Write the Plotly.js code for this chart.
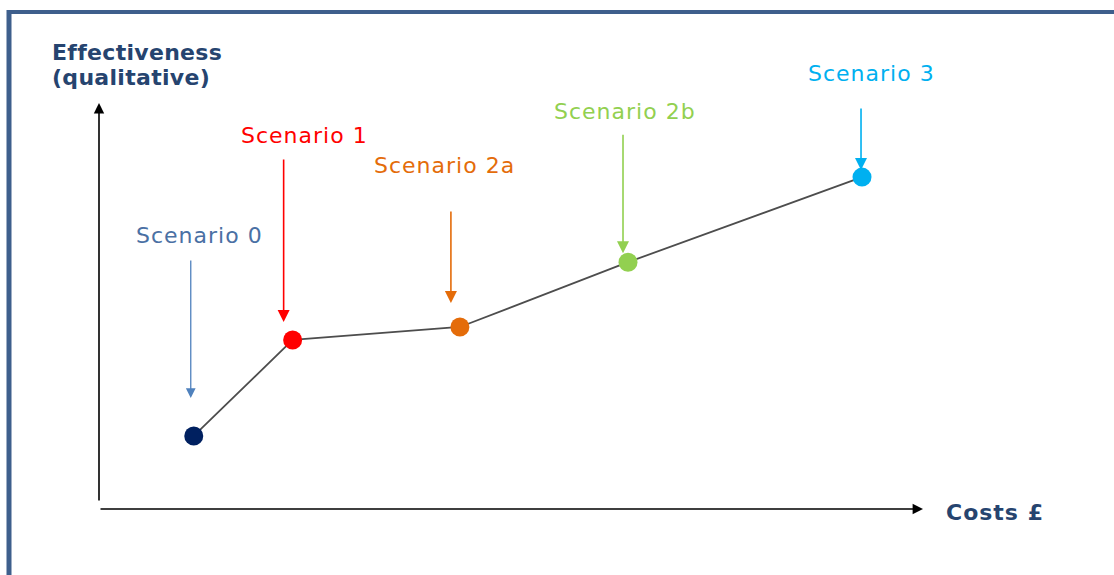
<!DOCTYPE html>
<html>
<head>
<meta charset="utf-8">
<script src="https://cdn.plot.ly/plotly-3.0.1.min.js"></script>
<style>
  html, body { margin: 0; padding: 0; background: #ffffff; }
  #chart { width: 1114px; height: 575px; }
  text.annotation-text { letter-spacing: 1px; }
</style>
</head>
<body>
<div id="chart"></div>
<script>
// ---- Data (qualitative positions) ----
const scenarios = ['Scenario 0', 'Scenario 1', 'Scenario 2a', 'Scenario 2b', 'Scenario 3'];
const costs = [1.15, 2.35, 4.38, 6.42, 9.26];
const effectiveness = [1.78, 4.15, 4.47, 6.07, 8.17];
const xAxisLabel = 'Costs £';
const yAxisLabelLines = ['Effectiveness', '(qualitative)'];

// ---- Styles ----
const markerColors = ['#002060', '#ff0000', '#e46c0a', '#92d050', '#00b0f0'];
const labelColors  = ['#4a70a4', '#ff0000', '#e46c0a', '#92d050', '#00b0f0'];
const arrowColors  = ['#4f81bd', '#ff0000', '#e46c0a', '#92d050', '#00b0f0'];
// pointer arrows: tail offset (px above point), gap to point, horizontal shift
const pointerStyle = [
  {ay: -177, standoff: 38, xshift: -3, width: 1.3},
  {ay: -182, standoff: 18, xshift: -9, width: 1.6},
  {ay: -117, standoff: 24, xshift: -9, width: 1.6},
  {ay: -129, standoff: 9,  xshift: -5, width: 1.6},
  {ay: -70,  standoff: 7,  xshift: -1, width: 1.6}
];
// label offsets relative to point (px)
const labelStyle = [
  {dx: 6,   dy: 200},
  {dx: 12,  dy: 204},
  {dx: -15, dy: 161},
  {dx: -3,  dy: 151},
  {dx: 9,   dy: 104}
];

const W = 1114, H = 575;
const margin = {l: 99, r: 191, t: 103, b: 67, pad: 0};
const plotW = W - margin.l - margin.r, plotH = H - margin.t - margin.b;
const px2paperX = px => (px - margin.l) / plotW;
const px2paperY = py => (H - margin.b - py) / plotH;

const labelFont = {family: 'DejaVu Sans, Verdana, sans-serif', size: 22};
const titleFont = {family: 'DejaVu Sans, Verdana, sans-serif', size: 22, color: '#26446f', weight: 'bold'};

const annotations = [];

scenarios.forEach((name, i) => {
  // pointer arrow
  annotations.push({
    x: costs[i], y: effectiveness[i], xref: 'x', yref: 'y',
    text: '', showarrow: true,
    ax: 0, ay: pointerStyle[i].ay, axref: 'pixel', ayref: 'pixel',
    standoff: pointerStyle[i].standoff, xshift: pointerStyle[i].xshift,
    arrowhead: 2, arrowsize: 1.5, arrowwidth: pointerStyle[i].width,
    arrowcolor: arrowColors[i]
  });
  // label
  annotations.push({
    x: costs[i], y: effectiveness[i], xref: 'x', yref: 'y',
    text: name, showarrow: false,
    xanchor: 'center', yanchor: 'middle',
    xshift: labelStyle[i].dx, yshift: labelStyle[i].dy,
    font: Object.assign({}, labelFont, {color: labelColors[i]})
  });
});

// axis arrows
annotations.push({
  x: 0, y: 1, xref: 'paper', yref: 'paper', text: '', showarrow: true,
  ax: 0, ay: 399, axref: 'pixel', ayref: 'pixel',
  arrowhead: 2, arrowsize: 1.3, arrowwidth: 1.6, arrowcolor: '#000000'
});
annotations.push({
  x: 1, y: 0, xref: 'paper', yref: 'paper', text: '', showarrow: true,
  ax: -824, ay: 0, axref: 'pixel', ayref: 'pixel', yshift: -1,
  arrowhead: 2, arrowsize: 1.3, arrowwidth: 1.6, arrowcolor: '#000000'
});
// axis titles
annotations.push({
  x: px2paperX(944), y: px2paperY(512), xref: 'paper', yref: 'paper',
  text: '<b>' + xAxisLabel + '</b>', showarrow: false,
  xanchor: 'left', yanchor: 'middle', font: titleFont
});
const titleLineY = [53, 77];
yAxisLabelLines.forEach((line, k) => {
  annotations.push({
    x: px2paperX(50), y: px2paperY(titleLineY[k]), xref: 'paper', yref: 'paper',
    text: '<b>' + line + '</b>', showarrow: false, align: 'left',
    xanchor: 'left', yanchor: 'middle', font: titleFont
  });
});

const shapes = [
  // frame: top and left edges
  {type: 'line', xref: 'paper', yref: 'paper',
   x0: px2paperX(7), x1: px2paperX(1120), y0: px2paperY(12), y1: px2paperY(12),
   line: {color: '#3e5f8c', width: 4}},
  {type: 'line', xref: 'paper', yref: 'paper',
   x0: px2paperX(9), x1: px2paperX(9), y0: px2paperY(10), y1: px2paperY(580),
   line: {color: '#3e5f8c', width: 5}}
];

const trace = {
  x: costs, y: effectiveness, text: scenarios,
  type: 'scatter', mode: 'lines+markers',
  line: {color: '#4d4d4d', width: 1.8},
  marker: {color: markerColors, size: 19, line: {width: 0}},
  hoverinfo: 'text', cliponaxis: false
};

const layout = {
  width: W, height: H, margin: margin,
  paper_bgcolor: '#ffffff', plot_bgcolor: '#ffffff',
  showlegend: false,
  xaxis: {range: [0, 10], visible: false, fixedrange: true},
  yaxis: {range: [0, 10], visible: false, fixedrange: true},
  annotations: annotations,
  shapes: shapes
};

Plotly.newPlot('chart', [trace], layout, {displayModeBar: false, staticPlot: true}).then(gd => {
  // tighten spacing on the bold y-axis title lines (left-anchored, so no re-centering needed)
  gd.querySelectorAll('text.annotation-text').forEach(t => {
    const s = t.textContent;
    if (s === 'Effectiveness' || s === '(qualitative)') t.style.letterSpacing = '0.3px';
  });
});
</script>
</body>
</html>
